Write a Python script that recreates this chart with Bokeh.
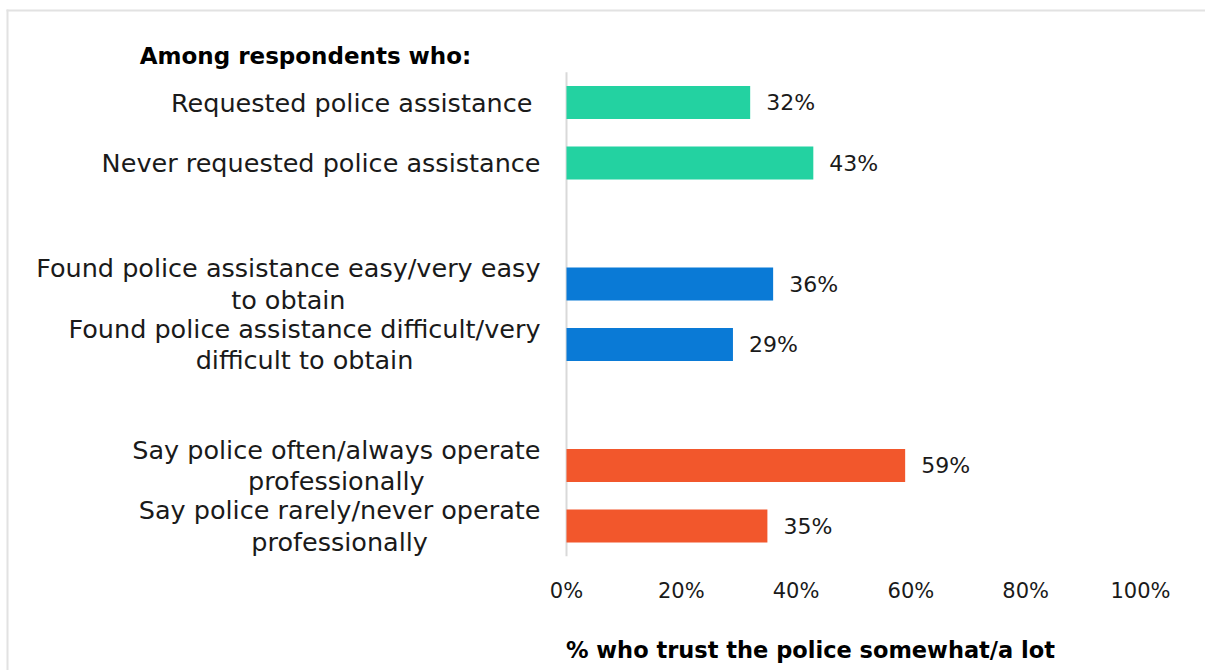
from bokeh.plotting import figure
from bokeh.models import ColumnDataSource, Range1d, FixedTicker, CustomJSTickFormatter
from bokeh.core.properties import value
from bokeh.embed import file_html
from bokeh.resources import INLINE

# ---------------- data ----------------
title_text = "Among respondents who:"
categories = [
    "Requested police assistance ",
    "Never requested police assistance",
    "Found police assistance easy/very easy\nto obtain",
    "Found police assistance difficult/very\ndifficult to obtain",
    "Say police often/always operate\nprofessionally",
    "Say police rarely/never operate\nprofessionally",
]
groups = [0, 0, 1, 1, 2, 2]
values = [32, 43, 36, 29, 59, 35]
group_colors = ["#23D2A1", "#0A7AD6", "#F2572C"]
x_ticks = [0, 20, 40, 60, 80, 100]
x_title = "% who trust the police somewhat/a lot"

# ---------------- layout ----------------
W, H = 1205, 670
X0_PX = 566          # pixel of 0 %
PX_PER_PCT = 5.74
SLOT0_PX = 102       # pixel centre of first slot
SLOT_PX = 60.5
FRAME_LEFT = 415
FRAME_BOTTOM = 565
FONT = "DejaVu Sans"
TEXT_COLOR = "#1a1a1a"


def px_x(px):
    return (px - X0_PX) / PX_PER_PCT


def px_y(px):
    return (px - SLOT0_PX) / SLOT_PX


# slot positions: groups separated by one empty slot
pos = []
counts = {}
for g in groups:
    k = counts.get(g, 0)
    pos.append(g * 3 + k)
    counts[g] = k + 1
n_slots = max(pos) + 1

src = ColumnDataSource(dict(
    pos=pos,
    value=values,
    category=categories,
    color=[group_colors[g] for g in groups],
    label=[f"{v}%" for v in values],
))

p = figure(
    width=W, height=H,
    x_range=Range1d(px_x(FRAME_LEFT), px_x(W)),
    y_range=Range1d(px_y(FRAME_BOTTOM), px_y(0)),
    output_backend="svg", toolbar_location=None,
    y_axis_location=None,
    min_border_left=FRAME_LEFT, min_border_right=0,
    min_border_top=0, min_border_bottom=H - FRAME_BOTTOM,
    outline_line_color=None,
    background_fill_color="white", border_fill_color="white",
)
p.xgrid.visible = False
p.ygrid.visible = False

ax = p.xaxis[0]
ax.ticker = FixedTicker(ticks=x_ticks)
ax.formatter = CustomJSTickFormatter(code="return tick + '%'")
ax.axis_line_color = None
ax.major_tick_line_color = None
ax.minor_tick_line_color = None
ax.major_label_standoff = 7
ax.major_label_text_font = FONT
ax.major_label_text_font_size = "21px"
ax.major_label_text_color = TEXT_COLOR
ax.axis_label = x_title
ax.axis_label_standoff = 31
ax.axis_label_text_font = FONT
ax.axis_label_text_font_size = "22.5px"
ax.axis_label_text_font_style = "bold"
ax.axis_label_text_color = "#000000"

# chart border (decorative)
p.segment(x0=[px_x(6)], y0=[px_y(10)], x1=[px_x(W)], y1=[px_y(10)],
          line_color="#E2E2E2", line_width=2, level="overlay")
p.segment(x0=[px_x(7)], y0=[px_y(9)], x1=[px_x(7)], y1=[px_y(H)],
          line_color="#E2E2E2", line_width=2, level="overlay")

# vertical category axis line
p.segment(x0=[0], y0=[-0.5], x1=[0], y1=[n_slots - 0.5],
          line_color="#D9D9D9", line_width=2)

p.hbar(y="pos", left=0, right="value", height=0.545, source=src,
       fill_color="color", line_color=None)

p.text(x="value", y="pos", text="label", source=src, x_offset=16,
       text_align="left", text_baseline="middle",
       text_font=value(FONT), text_font_size="22px", text_color=TEXT_COLOR)

p.text(x=px_x(540), y="pos", text="category", source=src,
       anchor=value("center_right"), text_align="center", text_baseline="middle",
       text_line_height=1.05,
       text_font=value(FONT), text_font_size="25.5px", text_color=TEXT_COLOR,
       level="overlay")

p.text(x=[px_x(305)], y=[px_y(55)], text=[title_text],
       text_align="center", text_baseline="middle",
       text_font=value(FONT), text_font_size="23px", text_font_style="bold",
       text_color="#000000", level="overlay")

open("out.html", "w").write(file_html(p, INLINE))
